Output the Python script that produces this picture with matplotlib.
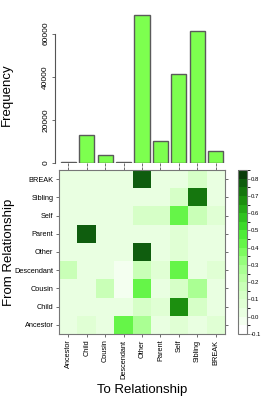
import numpy as np
import matplotlib
matplotlib.use("Agg")
import matplotlib.pyplot as plt
from matplotlib.colors import LinearSegmentedColormap, BoundaryNorm

plt.rcParams["font.family"] = ["Liberation Sans", "DejaVu Sans"]

relations = ["Ancestor", "Child", "Cousin", "Descendant", "Other",
             "Parent", "Self", "Sibling", "BREAK"]

# frequencias de cada relacao de destino
frequency = [600, 12850, 3600, 500, 68500, 10200, 41400, 61100, 5400]

# linhas = de (de baixo para cima), colunas = para
matrix = [
    [0.01, 0.08, 0.01, 0.45, 0.30, 0.00, 0.08, 0.03, 0.06],    # Ancestor
    [0.00, 0.00, 0.00, 0.00, 0.12, 0.06, 0.66, 0.14, 0.01],    # Child
    [0.00, 0.00, 0.15, -0.05, 0.40, 0.01, 0.10, 0.25, 0.01],   # Cousin
    [0.15, 0.00, 0.00, -0.05, 0.20, 0.07, 0.42, 0.04, 0.06],   # Descendant
    [0.00, 0.00, 0.00, 0.00, 0.77, 0.01, 0.08, 0.04, 0.01],    # Other
    [0.00, 0.78, 0.00, 0.00, 0.05, 0.01, 0.08, 0.01, 0.01],    # Parent
    [0.00, 0.00, 0.00, 0.00, 0.12, 0.10, 0.45, 0.15, 0.07],    # Self
    [0.00, 0.00, 0.00, 0.00, 0.05, 0.01, 0.12, 0.72, 0.02],    # Sibling
    [0.00, 0.00, 0.00, 0.00, 0.78, 0.01, 0.02, 0.12, 0.00],    # BREAK
]

W, H = 266, 396
fig = plt.figure(figsize=(W / 100, H / 100), dpi=100)

def box(x0, y0, x1, y1):
    return [x0 / W, 1 - y1 / H, (x1 - x0) / W, (y1 - y0) / H]

vmin, vmax = -0.1, 0.85
anchors = [(-0.1, "#ffffff"), (0.0, "#eaffe2"), (0.1, "#d8ffca"), (0.2, "#c0ffaa"),
           (0.3, "#a0ff88"), (0.4, "#70fa50"), (0.5, "#44e830"), (0.6, "#2cbc1c"),
           (0.7, "#1a8a0e"), (0.8, "#0e5a0e"), (0.85, "#0a3c0a")]
cmap = LinearSegmentedColormap.from_list(
    "grn", [((v - vmin) / (vmax - vmin), c) for v, c in anchors])
levels = np.arange(-0.1, 0.851, 0.05)
norm = BoundaryNorm(levels, cmap.N)

# barras
ax1 = fig.add_axes(box(59, 12, 225, 163))
idx = np.arange(len(relations))
ax1.bar(idx, frequency, width=0.82, color="#7dff4f", edgecolor="#5a5a5a", linewidth=1)
ax1.set_xlim(-0.5, 8.5)
ax1.set_ylim(0, 70000)
for s in ["top", "right", "bottom"]:
    ax1.spines[s].set_visible(False)
ax1.spines["left"].set_position(("outward", 3))
ax1.spines["left"].set_bounds(0, 60000)
ax1.spines["left"].set_color("#555555")
ax1.set_yticks([0, 20000, 40000, 60000])
ax1.set_yticklabels(["0", "20000", "40000", "60000"], rotation=90, va="center", fontsize=6)
ax1.set_xticks(idx)
ax1.set_xticklabels([])
ax1.tick_params(axis="both", length=2.5, width=0.6, color="#555555", pad=1.5)
ax1.set_ylabel("Frequency", fontsize=9.5)
ax1.yaxis.set_label_coords(-0.275, 0.45)

# mapa de calor
ax2 = fig.add_axes(box(59, 170, 225, 334))
mesh = ax2.pcolormesh(np.arange(10) - 0.5, np.arange(10) - 0.5, np.array(matrix),
                      cmap=cmap, norm=norm)
ax2.set_xlim(-0.5, 8.5)
ax2.set_ylim(-0.5, 8.5)
ax2.set_xticks(idx)
ax2.set_yticks(idx)
ax2.set_xticklabels(relations, rotation=90, fontsize=5.3)
ax2.set_yticklabels(relations, fontsize=5.3)
ax2.tick_params(axis="both", length=2.5, width=0.6, color="#555555", pad=1.5,
                top=True, right=True)
for s in ax2.spines.values():
    s.set_color("#777777")
    s.set_linewidth(0.8)
ax2.set_xlabel("To Relationship", fontsize=9.5)
ax2.xaxis.set_label_coords(0.5, -0.305)
ax2.set_ylabel("From Relationship", fontsize=9.5)
ax2.yaxis.set_label_coords(-0.265, 0.5)

# barra de cores
cax = fig.add_axes(box(238, 170, 247, 334))
cb = fig.colorbar(mesh, cax=cax, ticks=np.arange(-0.1, 0.81, 0.1))
cb.ax.set_yticklabels(["%.1f" % v for v in np.arange(-0.1, 0.81, 0.1)], fontsize=4.3)
cb.ax.tick_params(length=2, width=0.5, color="#555555", pad=1)
cb.outline.set_edgecolor("#777777")
cb.outline.set_linewidth(0.8)

fig.savefig("out.png", dpi=100)
